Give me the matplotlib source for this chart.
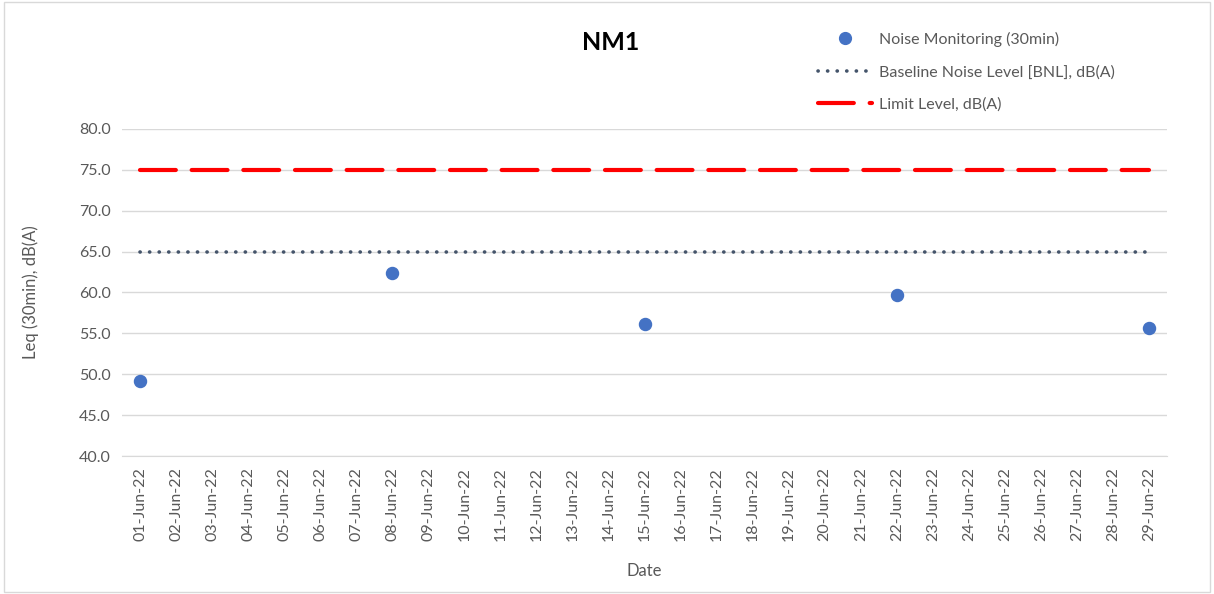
import matplotlib.pyplot as plt
from matplotlib.lines import Line2D

# Dates on the x axis (category axis)
dates = [f'{d:02d}-Jun-22' for d in range(1, 30)]

# Measured noise levels, dB(A)
meas_dates = ['01-Jun-22', '08-Jun-22', '15-Jun-22', '22-Jun-22', '29-Jun-22']
meas_values = [49.2, 62.4, 56.2, 59.7, 55.7]

baseline = 65.0
limit = 75.0

grey = '#595959'
plt.rcParams['font.family'] = ['Lato', 'DejaVu Sans']

fig = plt.figure(figsize=(12.14, 5.94), dpi=100)
ax = fig.add_axes([0.1005, 0.2323, 0.8608, 0.5507])

x_all = list(range(len(dates)))
x_meas = [dates.index(d) for d in meas_dates]

limit_style = dict(color='#ff0000', lw=3.0, linestyle=(0, (8.6, 3.8)), dash_capstyle='round')
base_style = dict(color='#44546a', lw=2.6, linestyle=(0, (0.05, 2.6)), dash_capstyle='round')

ax.plot(x_all, [limit] * len(dates), zorder=3, **limit_style)
ax.plot(x_all, [baseline] * len(dates), zorder=3, **base_style)
ax.scatter(x_meas, meas_values, s=75, color='#4472c4', zorder=4)

ax.set_xlim(-0.5, len(dates) - 0.5)
ax.set_ylim(40, 80)
ax.set_yticks(range(40, 81, 5))
ax.set_yticklabels([f'{v:.1f}' for v in range(40, 81, 5)])
ax.set_xticks(x_all)
ax.set_xticklabels(dates, rotation=90)
ax.grid(axis='y', color='#d9d9d9', lw=1)
ax.set_axisbelow(True)
for s in ['top', 'right', 'left']:
    ax.spines[s].set_visible(False)
ax.spines['bottom'].set_color('#d9d9d9')
ax.tick_params(length=0, labelsize=11.5, colors=grey, pad=8)
ax.set_ylabel('Leq (30min), dB(A)', fontsize=12, color=grey, labelpad=29)
ax.set_xlabel('Date', fontsize=12, color=grey, labelpad=16)

fig.text(0.503, 0.928, 'NM1', fontsize=18, fontweight='bold', ha='center', va='center')

handles = [
    Line2D([], [], ls='none', marker='o', ms=8.5, color='#4472c4'),
    Line2D([], [], **base_style),
    Line2D([], [], **limit_style),
]
labels = ['Noise Monitoring (30min)', 'Baseline Noise Level [BNL], dB(A)', 'Limit Level, dB(A)']
leg = fig.legend(handles, labels, loc='upper left', bbox_to_anchor=(0.662, 0.971),
                 frameon=False, fontsize=11.5, labelcolor=grey, handlelength=3.4,
                 handletextpad=0.4, labelspacing=1.15)

fig.patches.append(plt.Rectangle((0.003, 0.004), 0.994, 0.992, transform=fig.transFigure,
                                 fill=False, edgecolor='#d9d9d9', lw=1))

fig.savefig('out.png', dpi=100)
